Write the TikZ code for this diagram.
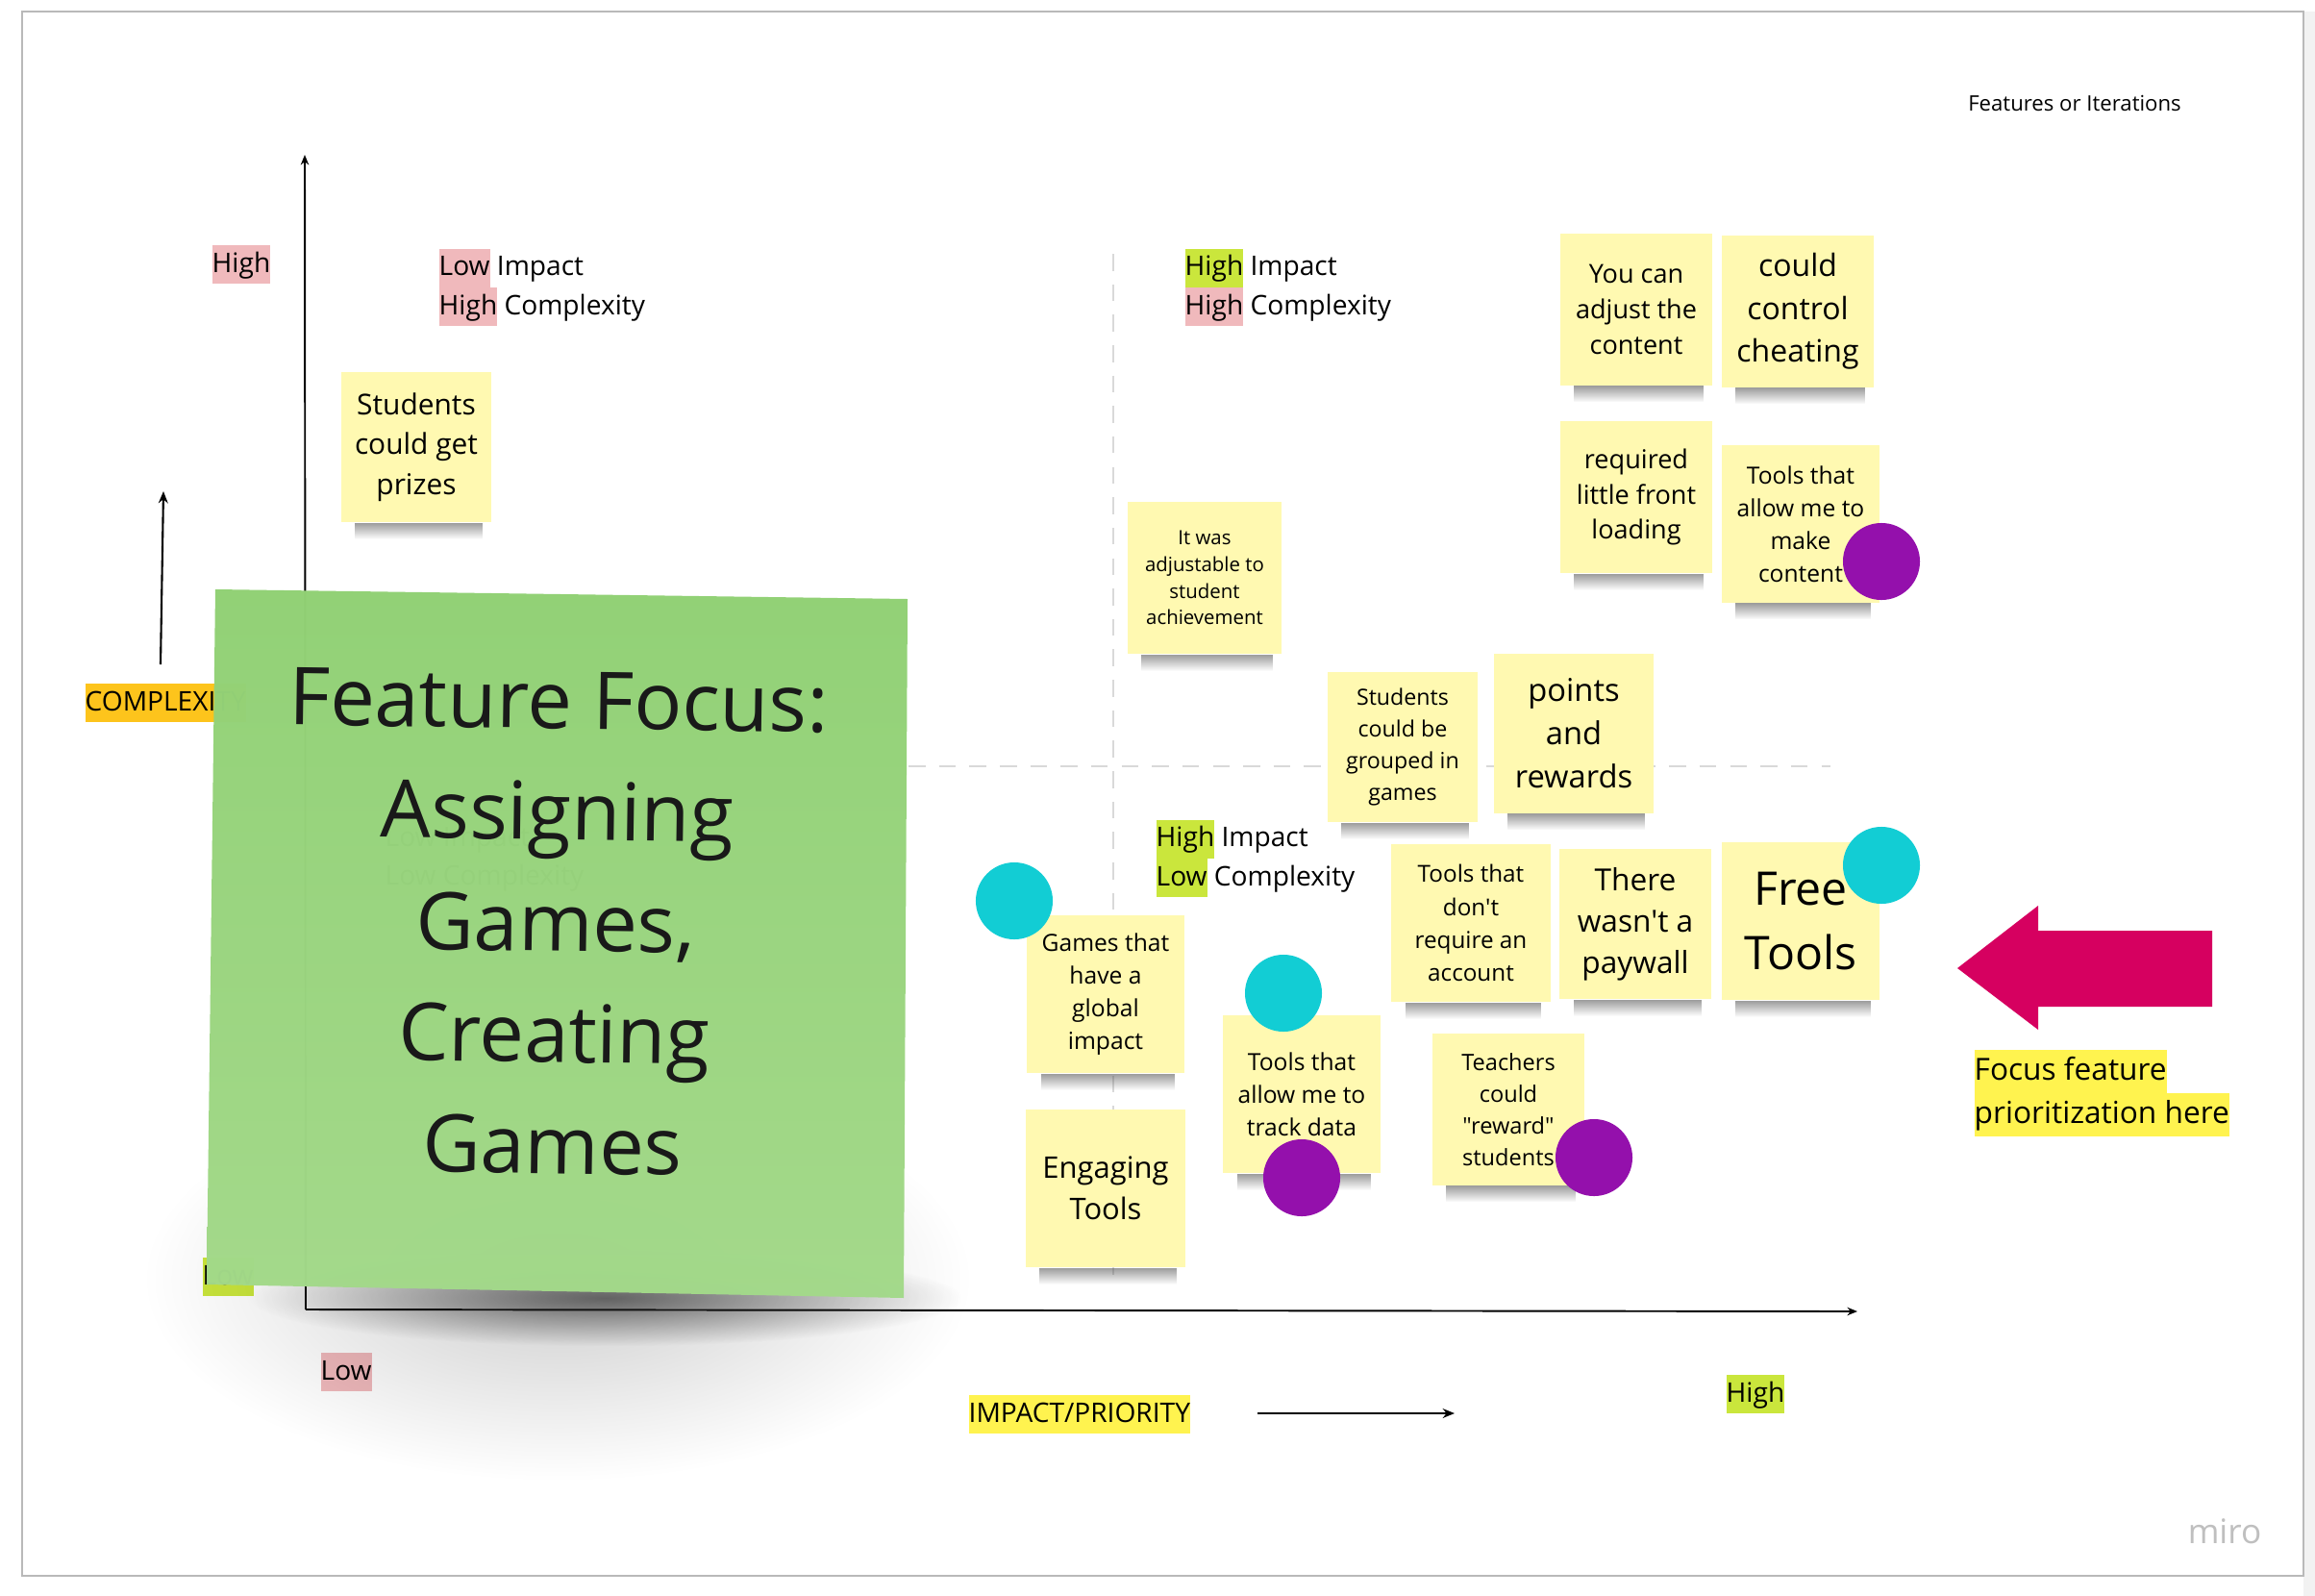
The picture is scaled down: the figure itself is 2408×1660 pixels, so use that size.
\documentclass[tikz,border=0pt]{standalone}
\usepackage{fontspec}
\setmainfont{Open Sans}[Ligatures=TeXOff]
\usepackage{tikz}
\usetikzlibrary{arrows.meta, positioning, fadings}

\definecolor{stickyyellow}{RGB}{255,249,177}
\definecolor{notegreen}{RGB}{145,209,116}
\definecolor{notegreenlight}{RGB}{163,217,138}
\definecolor{hlpink}{RGB}{240,185,188}
\definecolor{hllime}{RGB}{202,230,60}
\definecolor{hlyellow}{RGB}{255,243,79}
\definecolor{hlorange}{RGB}{253,196,28}
\definecolor{votecyan}{RGB}{18,205,212}
\definecolor{votepurple}{RGB}{148,16,172}
\definecolor{arrowpink}{RGB}{214,0,96}

\tikzfading[name=notefade, top color=transparent!45, bottom color=transparent!100]
\tikzfading[name=bandfade, inner color=transparent!35, outer color=transparent!100]
\tikzfading[name=bigfade, inner color=transparent!80, outer color=transparent!100]

% highlighted word, box as tall as the line
\newcommand{\hlbox}[2]{{\setlength{\fboxsep}{0pt}\colorbox{#1}{\strut #2}}}
% shadow under a sticky note
\newcommand{\notefoot}[1]{\fill[black!70, path fading=notefade] ([xshift=0.15cm]#1.south west) rectangle ([xshift=-0.1cm,yshift=-0.17cm]#1.south east);}

\begin{document}
\begin{tikzpicture}[
    x=0.01cm, y=-0.01cm,
    >=Stealth,
    every node/.style={inner sep=0pt},
    sticky/.style 2 args={fill=stickyyellow, align=center, minimum width=#1, minimum height=#2},
    axislabel/.style={anchor=west, align=left, font=\fontsize{8}{11.4}\selectfont},
    quadline/.style={gray!30, dash pattern=on 5pt off 4pt, line width=0.4pt},
    vote/.style={circle, minimum size=0.8cm}
]

% Board
\fill[white] (0,0) rectangle (2408,1660);
\useasboundingbox (0,0) rectangle (2408,1660);
\fill[gray!10] (2396,12) rectangle (2408,1660);
\draw[gray!55, line width=0.6pt] (23,12) rectangle (2396,1639);

\node[font=\fontsize{6.3}{8}\selectfont] (boardtitle) at (2158,107) {Features or Iterations};
\node[font=\fontsize{10}{12}\selectfont, text=gray!50] (brand) at (2314,1593) {miro};

% Quadrant lines
\draw[quadline] (1158,264) -- (1158,1340);
\draw[quadline] (945,797) -- (1904,797);

% Axes
\coordinate (origin) at (318,1362);
\coordinate (ytip) at (317,161);
\coordinate (xtip) at (1932,1364);
\draw[-{Stealth[length=3pt,width=2.4pt]}, line width=0.55pt] (origin) -- (ytip);
\draw[-{Stealth[length=3pt,width=2.4pt]}, line width=0.55pt] (origin) -- (xtip);

% Axis labels
\node[axislabel] (yhigh) at (220,275) {\hlbox{hlpink}{High}};
\node[axislabel] (ylow) at (210,1328) {\hlbox{hllime}{Low}};
\node[axislabel] (xlow) at (333,1427) {\hlbox{hlpink}{Low}};
\node[axislabel] (xhigh) at (1795,1450) {\hlbox{hllime}{High}};
\node[axislabel] (complexity) at (88,731) {\hlbox{hlorange}{COMPLEXITY}};
\node[axislabel] (impact) at (1007,1471) {\hlbox{hlyellow}{IMPACT/PRIORITY}};

\coordinate (cfoot) at (167,691);
\coordinate (chead) at (170,511);
\draw[-{Stealth[length=3.5pt,width=2.8pt]}, line width=0.6pt] (cfoot) -- (chead);
\coordinate (ifoot) at (1308,1470);
\coordinate (ihead) at (1513,1470);
\draw[-{Stealth[length=3.5pt,width=2.8pt]}, line width=0.6pt] (ifoot) -- (ihead);

% Quadrant titles
\node[axislabel] (lowhigh) at (456,299) {\hlbox{hlpink}{Low} Impact\\\hlbox{hlpink}{High} Complexity};
\node[axislabel] (highhigh) at (1232,299) {\hlbox{hllime}{High} Impact\\\hlbox{hlpink}{High} Complexity};
\node[axislabel] (highlow) at (1202,893) {\hlbox{hllime}{High} Impact\\\hlbox{hllime}{Low} Complexity};
\node[axislabel] (lowlow) at (400,894) {Low Impact\\Low Complexity};

% Focus note
\fill[black, path fading=bigfade] (150,1120) rectangle (1010,1540);
\fill[black!85, path fading=bandfade] (260,1300) rectangle (1000,1400);
\shade[top color=notegreen, bottom color=notegreenlight, fill opacity=0.985]
    (224,613) -- (944,623) -- (940,1350) -- (215,1336) -- cycle;
\node[rotate=-0.8, align=center, text=black!90, font=\fontsize{23.6}{32.9}\selectfont] (focusnote) at (578,960)
    {Feature Focus:\\Assigning\\Games,\\Creating\\Games};

% Sticky notes
\node[sticky={1.56cm}{1.56cm}, font=\fontsize{8.5}{11.8}\selectfont] (prizes) at (433,465) {Students\\could get\\prizes};
\node[sticky={1.6cm}{1.58cm}, font=\fontsize{5.8}{7.9}\selectfont] (adjustable) at (1253,601) {It was\\adjustable to\\student\\achievement};
\node[sticky={1.58cm}{1.57cm}, font=\fontsize{7.7}{10.5}\selectfont] (youcan) at (1702,322) {You can\\adjust the\\content};
\node[sticky={1.58cm}{1.57cm}, font=\fontsize{9.1}{12.7}\selectfont] (cheating) at (1870,324) {could\\control\\cheating};
\node[sticky={1.58cm}{1.58cm}, font=\fontsize{7.7}{10.5}\selectfont] (loading) at (1702,517) {required\\little front\\loading};
\node[sticky={1.64cm}{1.63cm}, font=\fontsize{7}{9.7}\selectfont] (makecontent) at (1873,545) {Tools that\\allow me to\\make\\content};
\node[sticky={1.56cm}{1.56cm}, font=\fontsize{6.6}{9.4}\selectfont] (grouped) at (1459,777) {Students\\could be\\grouped in\\games};
\node[sticky={1.66cm}{1.65cm}, font=\fontsize{9.3}{12.8}\selectfont] (points) at (1637,763) {points\\and\\rewards};
\node[sticky={1.65cm}{1.64cm}, font=\fontsize{6.9}{9.7}\selectfont] (account) at (1530,960) {Tools that\\don't\\require an\\account};
\node[sticky={1.57cm}{1.56cm}, font=\fontsize{9}{12.2}\selectfont] (paywall) at (1701,961) {There\\wasn't a\\paywall};
\node[sticky={1.64cm}{1.64cm}, font=\fontsize{13.7}{18.8}\selectfont] (freetools) at (1873,958) {Free\\Tools};
\node[sticky={1.63cm}{1.64cm}, font=\fontsize{7}{9.7}\selectfont] (global) at (1150,1034) {Games that\\have a\\global\\impact};
\node[sticky={1.63cm}{1.64cm}, font=\fontsize{7}{9.7}\selectfont] (trackdata) at (1354,1138) {Tools that\\allow me to\\track data};
\node[sticky={1.58cm}{1.57cm}, font=\fontsize{6.7}{9.4}\selectfont] (reward) at (1569,1154) {Teachers\\could\\"reward"\\students};
\node[sticky={1.66cm}{1.64cm}, font=\fontsize{8.8}{12.2}\selectfont] (engaging) at (1150,1236) {Engaging\\Tools};

% Note shadows
\foreach \n in {prizes, adjustable, youcan, cheating, loading, makecontent, grouped, points,
    account, paywall, freetools, global, trackdata, reward, engaging}
    {\notefoot{\n}}

% Votes
\node[vote, fill=votepurple] (vmake) at (1957,584) {};
\node[vote, fill=votecyan] (vfree) at (1957,900) {};
\node[vote, fill=votecyan] (vglobal) at (1055,937) {};
\node[vote, fill=votecyan] (vtrack) at (1335,1033) {};
\node[vote, fill=votepurple] (vdata) at (1354,1225) {};
\node[vote, fill=votepurple] (vreward) at (1658,1204) {};

% Focus pointer
\fill[arrowpink] (2036,1007) -- (2120,942) -- (2120,968) -- (2301,968) -- (2301,1047)
    -- (2120,1047) -- (2120,1071) -- cycle;
\node[anchor=north west, align=left, font=\fontsize{9}{12.8}\selectfont] (focuslabel) at (2053,1091)
    {\hlbox{hlyellow}{Focus feature}\\\hlbox{hlyellow}{prioritization here}};

\end{tikzpicture}
\end{document}
